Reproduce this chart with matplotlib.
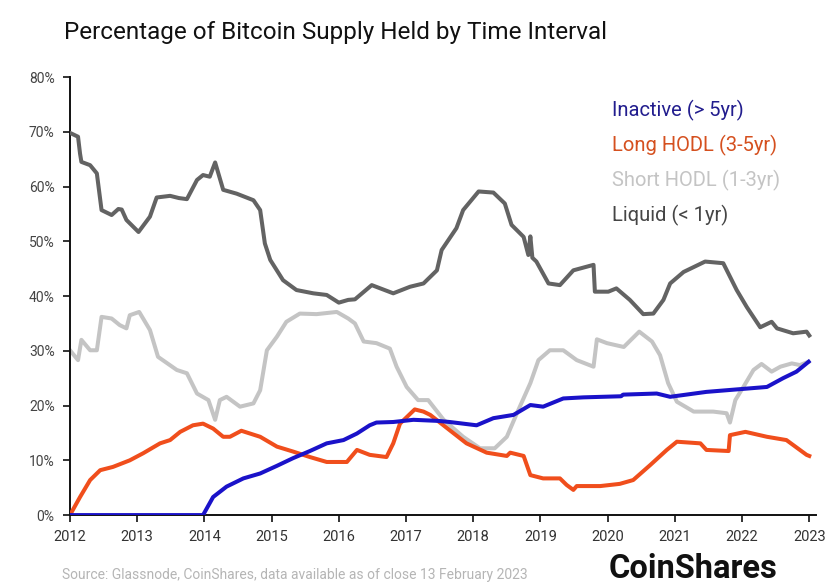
import matplotlib
matplotlib.use("Agg")
import matplotlib.pyplot as plt
from matplotlib.ticker import FuncFormatter

plt.rcParams['font.family'] = ['Roboto', 'DejaVu Sans']

# values (year, percent of supply)
liquid_t = [2012.00, 2012.12, 2012.15, 2012.17, 2012.30, 2012.40, 2012.47, 2012.62, 2012.72, 2012.77,
            2012.84, 2013.02, 2013.19, 2013.29, 2013.49, 2013.62, 2013.74, 2013.89, 2013.98, 2014.08,
            2014.16, 2014.28, 2014.48, 2014.73, 2014.83, 2014.90, 2014.98, 2015.17, 2015.37, 2015.62,
            2015.82, 2016.00, 2016.14, 2016.24, 2016.49, 2016.81, 2017.06, 2017.26, 2017.46, 2017.53,
            2017.75, 2017.85, 2018.08, 2018.30, 2018.47, 2018.57, 2018.75, 2018.82, 2018.85, 2018.88,
            2018.94, 2019.12, 2019.29, 2019.49, 2019.79, 2019.81, 2020.01, 2020.13, 2020.33, 2020.53,
            2020.68, 2020.83, 2020.93, 2021.13, 2021.45, 2021.72, 2021.92, 2022.07, 2022.27, 2022.44,
            2022.52, 2022.76, 2022.96, 2023.00]
liquid_v = [69.8, 69.1, 66.0, 64.5, 63.9, 62.4, 55.7, 54.8, 55.9, 55.8,
            53.9, 51.7, 54.5, 58.0, 58.3, 57.9, 57.7, 61.2, 62.1, 61.8,
            64.4, 59.4, 58.7, 57.5, 55.7, 49.6, 46.6, 42.9, 41.1, 40.5,
            40.2, 38.8, 39.3, 39.4, 42.0, 40.5, 41.7, 42.3, 44.7, 48.4,
            52.4, 55.7, 59.1, 58.9, 56.9, 53.0, 50.8, 47.5, 50.9, 47.0,
            46.3, 42.3, 42.0, 44.7, 45.7, 40.8, 40.8, 41.4, 39.3, 36.7,
            36.8, 39.3, 42.3, 44.4, 46.3, 46.0, 41.1, 38.0, 34.3, 35.3,
            34.1, 33.2, 33.5, 32.8]

short_t = [2012.00, 2012.12, 2012.17, 2012.30, 2012.40, 2012.47, 2012.62, 2012.74, 2012.84, 2012.89,
           2013.03, 2013.19, 2013.31, 2013.59, 2013.74, 2013.89, 2014.06, 2014.16, 2014.23, 2014.33,
           2014.53, 2014.73, 2014.83, 2014.93, 2015.08, 2015.22, 2015.42, 2015.67, 2015.97, 2016.14,
           2016.24, 2016.37, 2016.56, 2016.76, 2016.86, 2017.01, 2017.18, 2017.33, 2017.56, 2017.85,
           2018.10, 2018.32, 2018.50, 2018.65, 2018.85, 2018.97, 2019.14, 2019.34, 2019.54, 2019.79,
           2019.84, 2019.99, 2020.24, 2020.47, 2020.66, 2020.78, 2020.90, 2021.03, 2021.28, 2021.57,
           2021.77, 2021.82, 2021.90, 2022.02, 2022.17, 2022.29, 2022.44, 2022.57, 2022.74, 2022.86,
           2022.99]
short_v = [30.1, 28.3, 32.0, 30.1, 30.1, 36.2, 35.9, 34.7, 34.1, 36.5,
           37.1, 33.8, 28.9, 26.5, 25.9, 22.2, 21.0, 17.4, 21.0, 21.6,
           19.8, 20.4, 22.8, 30.1, 32.6, 35.3, 36.8, 36.7, 37.1, 35.9,
           35.0, 31.7, 31.4, 30.4, 27.1, 23.4, 21.0, 21.0, 17.4, 14.3,
           12.2, 12.2, 14.3, 18.6, 24.1, 28.3, 30.1, 30.1, 28.3, 27.1,
           32.1, 31.4, 30.7, 33.5, 31.7, 29.2, 24.1, 20.7, 18.9, 18.9,
           18.6, 16.9, 21.0, 23.4, 26.5, 27.6, 26.2, 27.1, 27.7, 27.4,
           28.0]

inactive_t = [2012.00, 2013.98, 2014.13, 2014.33, 2014.58, 2014.83, 2015.08, 2015.32, 2015.57, 2015.82,
              2016.07, 2016.27, 2016.46, 2016.56, 2016.81, 2017.11, 2017.48, 2017.65, 2018.05, 2018.30,
              2018.60, 2018.85, 2019.04, 2019.34, 2019.64, 2020.20, 2020.23, 2020.73, 2020.93, 2021.47,
              2021.97, 2022.37, 2022.61, 2022.81, 2022.99]
inactive_v = [0.0, 0.0, 3.3, 5.2, 6.7, 7.6, 9.0, 10.4, 11.7, 13.1,
              13.7, 14.9, 16.4, 16.9, 17.0, 17.4, 17.2, 17.0, 16.4, 17.7,
              18.3, 20.1, 19.8, 21.3, 21.5, 21.7, 22.0, 22.2, 21.6, 22.5,
              23.0, 23.4, 25.0, 26.2, 28.0]

long_t = [2012.00, 2012.15, 2012.30, 2012.45, 2012.64, 2012.89, 2013.09, 2013.34, 2013.49, 2013.64,
          2013.83, 2013.98, 2014.13, 2014.28, 2014.38, 2014.55, 2014.83, 2015.08, 2015.32, 2015.57,
          2015.82, 2016.12, 2016.27, 2016.46, 2016.71, 2016.81, 2016.91, 2017.13, 2017.26, 2017.36,
          2017.65, 2017.90, 2018.20, 2018.50, 2018.55, 2018.75, 2018.85, 2019.04, 2019.29, 2019.39,
          2019.49, 2019.54, 2019.89, 2020.18, 2020.38, 2020.63, 2020.88, 2021.03, 2021.38, 2021.47,
          2021.80, 2021.82, 2022.05, 2022.37, 2022.66, 2022.96, 2023.00]
long_v = [0.0, 3.3, 6.4, 8.2, 8.8, 10.0, 11.3, 13.1, 13.7, 15.2,
          16.4, 16.7, 15.8, 14.3, 14.3, 15.4, 14.3, 12.5, 11.6, 10.6,
          9.7, 9.7, 11.9, 11.0, 10.6, 13.1, 16.7, 19.3, 18.9, 18.3,
          15.5, 13.1, 11.4, 10.8, 11.4, 10.8, 7.3, 6.7, 6.7, 5.5,
          4.6, 5.3, 5.3, 5.7, 6.4, 9.1, 11.9, 13.4, 13.1, 11.9,
          11.7, 14.6, 15.2, 14.3, 13.7, 11.0, 10.8]

series_names = ["Inactive (> 5yr)", "Long HODL (3-5yr)", "Short HODL (1-3yr)", "Liquid (< 1yr)"]
line_colors = ["#1a12c9", "#f04e1c", "#c4c4c4", "#636363"]
text_colors = ["#221d8e", "#d5501f", "#c4c4c4", "#454545"]

years = list(range(2012, 2024))
pct_ticks = [0, 10, 20, 30, 40, 50, 60, 70, 80]


def main():
    fig = plt.figure(figsize=(8.28, 5.88), dpi=100)
    ax = fig.add_axes([0.0845, 0.124, 0.901, 0.745])

    # light gray goes behind the rest
    ax.plot(short_t, short_v, color=line_colors[2], lw=2.9, solid_joinstyle="round", zorder=2)
    ax.plot(liquid_t, liquid_v, color=line_colors[3], lw=2.9, solid_joinstyle="round", zorder=3)
    ax.plot(long_t, long_v, color=line_colors[1], lw=2.9, solid_joinstyle="round", zorder=3)
    ax.plot(inactive_t, inactive_v, color=line_colors[0], lw=2.9, solid_joinstyle="round", zorder=4)

    ax.set_xlim(2012, 2023.1)
    ax.set_ylim(0, 80)
    ax.set_xticks(years)
    ax.set_yticks(pct_ticks)
    ax.yaxis.set_major_formatter(FuncFormatter(lambda v, p: f"{v:.0f}%"))

    for s in ["top", "right"]:
        ax.spines[s].set_visible(False)
    for s in ["left", "bottom"]:
        ax.spines[s].set_linewidth(1.4)
        ax.spines[s].set_color("#111111")

    ax.tick_params(axis="x", length=5, width=1.2, colors="#111111", labelsize=10.5, pad=6,
                   labelcolor="#333333")
    ax.tick_params(axis="y", length=5, width=1.2, colors="#111111", labelsize=10, pad=6,
                   labelcolor="#444444")

    # legend as coloured text
    for i, name in enumerate(series_names):
        fig.text(0.739, 0.812 - i * 0.0595, name, color=text_colors[i], fontsize=14.5,
                 ha="left", va="center")

    fig.text(0.077, 0.934, "Percentage of Bitcoin Supply Held by Time Interval",
             fontsize=17.5, color="#111111", ha="left", va="baseline")
    fig.text(0.075, 0.022, "Source: Glassnode, CoinShares, data available as of close 13 February 2023",
             fontsize=10, color="#b5b5b5", ha="left", va="center")
    fig.text(0.9396, 0.017, "CoinShares", fontsize=23.5, fontweight="bold", color="#111111",
             ha="right", va="baseline")

    fig.savefig("out.png", dpi=100)


if __name__ == "__main__":
    main()
